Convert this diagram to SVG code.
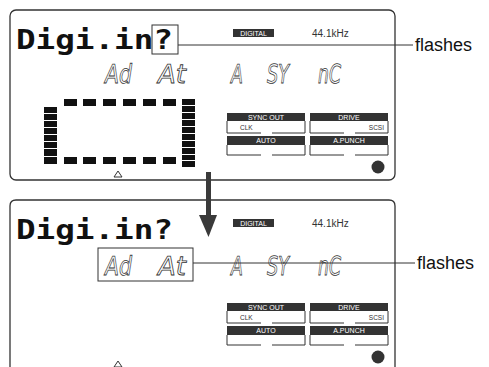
<svg xmlns="http://www.w3.org/2000/svg" width="489" height="367" viewBox="0 0 489 367">
<style>
.pan{fill:none;stroke:#333;stroke-width:1.3}
.lcd{font-family:"DejaVu Sans Mono","Liberation Mono",monospace;font-weight:bold;font-size:27px;fill:#111}
.seg{font-family:"DejaVu Sans",sans-serif;font-style:oblique;font-size:26px;fill:#fff;stroke:#333;stroke-width:0.8;text-rendering:geometricPrecision}
.blk{fill:#111}
.hd{fill:#333}
.hdt{font-family:"Liberation Sans",Arial,sans-serif;font-size:7px;fill:#fff;text-anchor:middle}
.sm{font-family:"Liberation Sans",Arial,sans-serif;font-size:6.5px;fill:#333}
.ln{fill:none;stroke:#333;stroke-width:1}
.fl{font-family:"Liberation Sans",Arial,sans-serif;font-size:18px;fill:#111}
.khz{font-family:"Liberation Sans",Arial,sans-serif;font-size:10px;fill:#333}
</style>
<defs>
<g id="ind">
<rect class="hd" x="233" y="29" width="41" height="8"/>
<text class="hdt" x="253.5" y="35.5">DIGITAL</text>
<text class="khz" x="312" y="37">44.1kHz</text>
<rect class="hd" x="227" y="113" width="78" height="8"/>
<text class="hdt" x="266" y="119.6">SYNC OUT</text>
<path class="ln" d="M227,121V133H261M272,133H305V121"/>
<text class="sm" x="240" y="130">CLK</text>
<rect class="hd" x="310" y="113" width="78" height="8"/>
<text class="hdt" x="349" y="119.6">DRIVE</text>
<path class="ln" d="M310,121V133H344M355,133H388V121"/>
<text class="sm" x="384" y="130" text-anchor="end">SCSI</text>
<rect class="hd" x="227" y="136" width="78" height="9"/>
<text class="hdt" x="266" y="143">AUTO</text>
<path class="ln" d="M227,145V155H261M272,155H305V145"/>
<rect class="hd" x="310" y="136" width="78" height="9"/>
<text class="hdt" x="349" y="143">A.PUNCH</text>
<path class="ln" d="M310,145V155H344M355,155H388V145"/>
<circle cx="378" cy="167" r="6.5" fill="#333"/>
<polygon points="118,171 114,177 122,177" fill="none" stroke="#333" stroke-width="1"/>
</g>
</defs>

<g id="panel-top">
<rect class="pan" x="10" y="10" width="385" height="170" rx="6"/>
<text class="lcd" x="16" y="49" textLength="157" lengthAdjust="spacingAndGlyphs">Digi.in?</text>
<rect class="ln" x="152" y="25" width="26" height="29"/>
<text class="seg" x="105" y="83" textLength="27" lengthAdjust="spacingAndGlyphs">Ad</text>
<text class="seg" x="158" y="83" textLength="28" lengthAdjust="spacingAndGlyphs">At</text>
<text class="seg" x="231" y="83" textLength="12" lengthAdjust="spacingAndGlyphs">A</text>
<text class="seg" x="267" y="83" textLength="22" lengthAdjust="spacingAndGlyphs">SY</text>
<text class="seg" x="318" y="83" textLength="23" lengthAdjust="spacingAndGlyphs">nC</text>
<use href="#ind"/>
<g id="meter">
<rect class="blk" x="44" y="107" width="13" height="6"/>
<rect class="blk" x="44" y="114" width="13" height="6"/>
<rect class="blk" x="44" y="121" width="13" height="6"/>
<rect class="blk" x="44" y="128" width="13" height="6"/>
<rect class="blk" x="44" y="135" width="13" height="6"/>
<rect class="blk" x="44" y="142" width="13" height="6"/>
<rect class="blk" x="44" y="149" width="13" height="7"/>
<rect class="blk" x="44" y="157" width="13" height="7"/>
<rect class="blk" x="182" y="99" width="13" height="6"/>
<rect class="blk" x="182" y="106" width="13" height="6"/>
<rect class="blk" x="182" y="113" width="13" height="6"/>
<rect class="blk" x="182" y="120" width="13" height="6"/>
<rect class="blk" x="182" y="127" width="13" height="6"/>
<rect class="blk" x="182" y="134" width="13" height="6"/>
<rect class="blk" x="182" y="141" width="13" height="6"/>
<rect class="blk" x="182" y="148" width="13" height="6"/>
<rect class="blk" x="182" y="155" width="13" height="5"/>
<rect class="blk" x="182" y="161" width="13" height="6"/>
<rect class="blk" x="64" y="99" width="13" height="7"/>
<rect class="blk" x="83" y="99" width="13" height="7"/>
<rect class="blk" x="103" y="99" width="13" height="7"/>
<rect class="blk" x="123" y="99" width="13" height="7"/>
<rect class="blk" x="143" y="99" width="13" height="7"/>
<rect class="blk" x="163" y="99" width="13" height="7"/>
<rect class="blk" x="64" y="157" width="13" height="7"/>
<rect class="blk" x="83" y="157" width="13" height="7"/>
<rect class="blk" x="103" y="157" width="13" height="7"/>
<rect class="blk" x="123" y="157" width="13" height="7"/>
<rect class="blk" x="143" y="157" width="13" height="7"/>
<rect class="blk" x="163" y="157" width="13" height="7"/>
</g>
</g>

<g id="panel-bottom">
<path class="pan" d="M10,367V206Q10,200 16,200H389Q395,200 395,206V367"/>
<text class="lcd" x="16" y="239" textLength="157" lengthAdjust="spacingAndGlyphs">Digi.in?</text>
<rect class="ln" x="98" y="248" width="95" height="33"/>
<text class="seg" x="105" y="275" textLength="27" lengthAdjust="spacingAndGlyphs">Ad</text>
<text class="seg" x="158" y="275" textLength="28" lengthAdjust="spacingAndGlyphs">At</text>
<text class="seg" x="231" y="275" textLength="12" lengthAdjust="spacingAndGlyphs">A</text>
<text class="seg" x="267" y="275" textLength="22" lengthAdjust="spacingAndGlyphs">SY</text>
<text class="seg" x="318" y="275" textLength="23" lengthAdjust="spacingAndGlyphs">nC</text>
<use href="#ind" transform="translate(0,190)"/>
</g>

<g id="connectors">
<line class="ln" x1="178" y1="45" x2="413" y2="45"/>
<line class="ln" x1="193" y1="263" x2="415" y2="263"/>
<rect x="206" y="172" width="5" height="45" fill="#3a3a3a"/>
<polygon points="199,215 217,215 208.5,237" fill="#3a3a3a"/>
</g>

<g id="label-top"><text class="fl" x="415" y="51">flashes</text></g>
<g id="label-bottom"><text class="fl" x="417" y="269">flashes</text></g>
</svg>
